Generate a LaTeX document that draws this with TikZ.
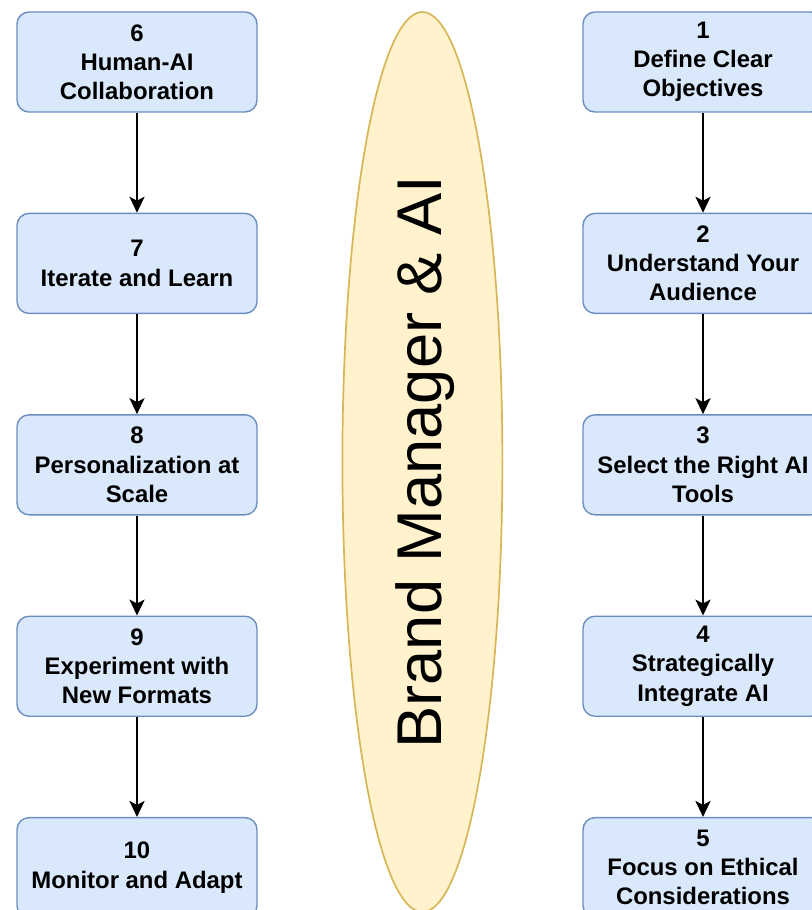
\documentclass[tikz,border=0pt]{standalone}
\usepackage{fontspec}
\setmainfont{Liberation Sans}
\usetikzlibrary{positioning, arrows.meta, shapes.geometric}

\begin{document}
\begin{tikzpicture}[
    >={Stealth[length=0.4cm, width=0.38cm, inset=0.1cm]},
    node distance=2.5cm,
    box/.style={rectangle, rounded corners=0.3cm, draw=boxline, fill=boxfill,
        line width=1pt, minimum width=6cm, minimum height=2.5cm,
        align=center, font=\bfseries\fontsize{17}{20.7}\selectfont},
    hub/.style={ellipse, draw=hubline, fill=hubfill, line width=1.2pt,
        minimum width=4cm, minimum height=22.5cm, inner sep=0pt},
    link/.style={->, line width=1.2pt}
]
    \definecolor{boxfill}{HTML}{DAE8FC}
    \definecolor{boxline}{HTML}{6C8EBF}
    \definecolor{hubfill}{HTML}{FFF2CC}
    \definecolor{hubline}{HTML}{D6B656}

    \useasboundingbox (0,0) rectangle (20.3,-22.75);

    % --- Elipse central ---
    \node[hub] (hub) at (10.56, -11.55) {};
    \node[rotate=90, font=\fontsize{45}{50}\selectfont] (title) at (10.62, -11.55) {Brand Manager \& AI};

    % --- Coluna direita: passos 1 a 5 ---
    \node[box] (step1) at (17.575, -1.55) {1\\Define Clear\\Objectives};
    \node[box, below=of step1] (step2) {2\\Understand Your\\Audience};
    \node[box, below=of step2] (step3) {3\\Select the Right AI\\Tools};
    \node[box, below=of step3] (step4) {4\\Strategically\\Integrate AI};
    \node[box, below=of step4] (step5) {5\\Focus on Ethical\\Considerations};

    % --- Coluna esquerda: passos 6 a 10 ---
    \node[box] (step6) at (3.425, -1.55) {6\\Human-AI\\Collaboration};
    \node[box, below=of step6] (step7) {7\\Iterate and Learn};
    \node[box, below=of step7] (step8) {8\\Personalization at\\Scale};
    \node[box, below=of step8] (step9) {9\\Experiment with\\New Formats};
    \node[box, below=of step9] (step10) {10\\Monitor and Adapt};

    % Conexoes
    \draw[link] (step1) -- (step2);
    \draw[link] (step2) -- (step3);
    \draw[link] (step3) -- (step4);
    \draw[link] (step4) -- (step5);
    \draw[link] (step6) -- (step7);
    \draw[link] (step7) -- (step8);
    \draw[link] (step8) -- (step9);
    \draw[link] (step9) -- (step10);

\end{tikzpicture}
\end{document}
